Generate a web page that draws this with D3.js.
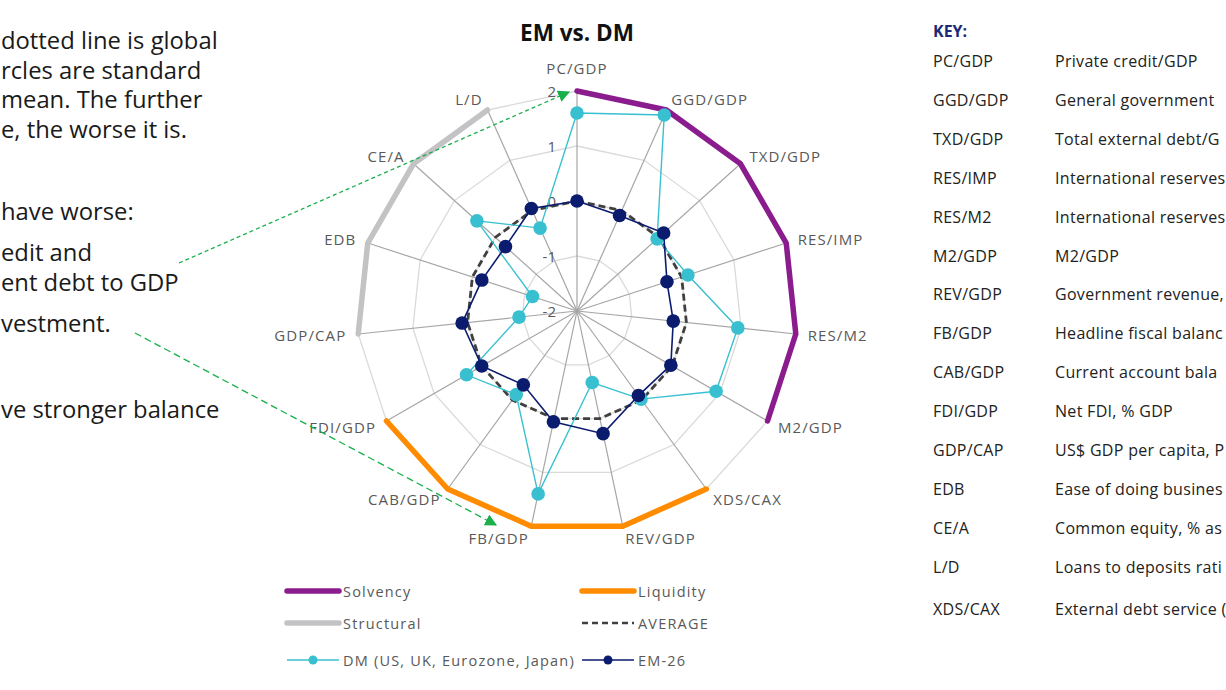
<!DOCTYPE html>
<html>
<head>
<meta charset="utf-8">
<script src="https://cdn.jsdelivr.net/npm/d3@7"></script>
<style>
  html, body { margin: 0; padding: 0; background: #fff; overflow: hidden; }
  svg { display: block; font-family: "Open Sans", sans-serif; }
</style>
</head>
<body>
<svg id="chart" width="1226" height="690"></svg>
<script>
// ---------------- DATA ----------------
const categories = ["PC/GDP","GGD/GDP","TXD/GDP","RES/IMP","RES/M2","M2/GDP","XDS/CAX","REV/GDP","FB/GDP","CAB/GDP","FDI/GDP","GDP/CAP","EDB","CE/A","L/D"];
const emValues   = [0.0, -0.1, 0.12, -0.28, -0.24, -0.03, -0.1, 0.28, 0.06, -0.34, 0.0, 0.1, -0.18, -0.25, 0.04];
const dmValues   = [1.6, 1.9, -0.04, 0.12, 0.94, 0.92, -0.02, -0.67, 1.4, -0.12, 0.32, -0.94, -1.15, 0.45, -0.35];
const averageValues = [0,0,0,0,0,0,0,0,0,0,0,0,0,0,0];
const solvencyValues   = [2,2,2,2,2,2,null,null,null,null,null,null,null,null,null];
const liquidityValues  = [null,null,null,null,null,null,2,2,2,2,2,null,null,null,null];
const structuralValues = [null,null,null,null,null,null,null,null,null,null,null,2,2,2,2];
const tickValues = [-2,-1,0,1,2];
const legendLabels = ["Solvency","Liquidity","Structural","AVERAGE","DM (US, UK, Eurozone, Japan)","EM-26"];
const keyAbbrev = ["PC/GDP","GGD/GDP","TXD/GDP","RES/IMP","RES/M2","M2/GDP","REV/GDP","FB/GDP","CAB/GDP","FDI/GDP","GDP/CAP","EDB","CE/A","L/D","XDS/CAX"];
const keyDesc = ["Private credit/GDP","General government","Total external debt/G","International reserves","International reserves","M2/GDP","Government revenue,","Headline fiscal balanc","Current account bala","Net FDI, % GDP","US$ GDP per capita, P","Ease of doing busines","Common equity, % as","Loans to deposits rati","External debt service ("];
const noteLines = ["dotted line is global","rcles are standard","mean. The further","e, the worse it is.","have worse:","edit and","ent debt to GDP","vestment.","ve stronger balance"];

// ---------------- STYLES ----------------
const C = {purple:"#8A1C8E", orange:"#FF8C00", gray:"#C3C3C6", avg:"#404040", dm:"#38C0D0", em:"#0B1B6E",
           spoke:"#A6A6A6", ring:"#DADADA", label:"#595959", green:"#19B04B"};

const svg = d3.select("#chart");
const cx = 577, cy = 311, R = 220;
const n = categories.length;
const r = d3.scaleLinear().domain([-2, 2]).range([0, R]);
const ang = d3.scalePoint().domain(categories).range([0, 2*Math.PI*(n-1)/n]);
const g = svg.append("g").attr("transform", `translate(${cx},${cy})`);
const px = (c, v) => r(v) * Math.sin(ang(c));
const py = (c, v) => -r(v) * Math.cos(ang(c));

// rings (polygons)
tickValues.filter(t => t > -2).forEach(t => {
  g.append("path")
    .attr("d", d3.lineRadial().angle(c => ang(c)).radius(() => r(t)).curve(d3.curveLinearClosed)(categories))
    .attr("fill", "none").attr("stroke", C.ring).attr("stroke-width", 1.3);
});
// spokes
g.selectAll("line.spoke").data(categories).join("line")
  .attr("x1", 0).attr("y1", 0)
  .attr("x2", c => px(c, 2)).attr("y2", c => py(c, 2))
  .attr("stroke", C.spoke).attr("stroke-width", 1.2);

// tick labels
g.selectAll("text.tick").data(tickValues).join("text")
  .attr("x", -21).attr("y", t => -r(t))
  .attr("text-anchor", "end").attr("dominant-baseline", "central")
  .attr("font-size", 15).attr("fill", C.label).text(t => t);

// category labels
g.selectAll("text.cat").data(categories).join("text")
  .attr("x", c => (R + 12) * Math.sin(ang(c)))
  .attr("y", c => -(R + 12) * Math.cos(ang(c)) - (Math.abs(Math.sin(ang(c))) < 0.05 ? 11 : 0))
  .attr("text-anchor", c => { const s = Math.sin(ang(c)); return Math.abs(s) < 0.05 ? "middle" : (s > 0 ? "start" : "end"); })
  .attr("dominant-baseline", "central")
  .attr("font-size", 15).attr("letter-spacing", 1.1).attr("fill", C.label)
  .text(c => c);

// group (category) lines
const openLine = d3.lineRadial().angle((d, i) => ang(categories[i])).radius(d => r(d)).defined(d => d !== null);
[[solvencyValues, C.purple], [liquidityValues, C.orange], [structuralValues, C.gray]].forEach(([vals, col]) => {
  g.append("path").attr("d", openLine(vals)).attr("fill", "none")
    .attr("stroke", col).attr("stroke-width", 5.5).attr("stroke-linecap", "round").attr("stroke-linejoin", "round");
});

const closedLine = d3.lineRadial().angle((d, i) => ang(categories[i])).radius(d => r(d)).curve(d3.curveLinearClosed);
// average
g.append("path").attr("d", closedLine(averageValues)).attr("fill", "none")
  .attr("stroke", C.avg).attr("stroke-width", 2.8).attr("stroke-dasharray", "7,4");

function series(vals, col, w) {
  g.append("path").attr("d", closedLine(vals)).attr("fill", "none").attr("stroke", col).attr("stroke-width", w);
  g.selectAll(null).data(vals).join("circle")
    .attr("cx", (d, i) => px(categories[i], d)).attr("cy", (d, i) => py(categories[i], d))
    .attr("r", 6.8).attr("fill", col);
}
series(dmValues, C.dm, 1.4);
series(emValues, C.em, 1.6);

// title
svg.append("text").attr("x", 577).attr("y", 32).attr("text-anchor", "middle").attr("dominant-baseline", "central")
  .attr("font-size", 22.5).attr("font-weight", "bold").attr("fill", "#111").text("EM vs. DM");

// legend
const leg = svg.append("g").attr("font-size", 14.5).attr("letter-spacing", 1.2).attr("fill", C.label);
const legItems = [
  {x: 287, y: 591, type: "thick", col: C.purple},
  {x: 582, y: 591, type: "thick", col: C.orange},
  {x: 287, y: 623, type: "thick", col: C.gray},
  {x: 582, y: 623, type: "dash", col: C.avg},
  {x: 287, y: 660, type: "dot", col: C.dm},
  {x: 582, y: 660, type: "dot", col: C.em}
];
legItems.forEach((it, i) => {
  const L = 52;
  const ln = leg.append("line").attr("x1", it.x).attr("x2", it.x + L).attr("y1", it.y).attr("y2", it.y).attr("stroke", it.col);
  if (it.type === "thick") ln.attr("stroke-width", 5.5).attr("stroke-linecap", "round");
  if (it.type === "dash") ln.attr("stroke-width", 2.4).attr("stroke-dasharray", "6,4");
  if (it.type === "dot") { ln.attr("stroke-width", 1.5); leg.append("circle").attr("cx", it.x + L/2).attr("cy", it.y).attr("r", 4.5).attr("fill", it.col); }
  leg.append("text").attr("x", it.x + 56).attr("y", it.y).attr("dominant-baseline", "central").text(legendLabels[i]);
});

// key
svg.append("text").attr("x", 933).attr("y", 31).attr("dominant-baseline", "central")
  .attr("font-size", 16).attr("font-weight", "bold").attr("fill", "#1B2A78").text("KEY:");
const keyY = [61,100,139,178,217,256,294,333,372,411,450,489,528,567,609];
const key = svg.append("g").attr("font-size", 16).attr("letter-spacing", 0.3).attr("fill", "#222");
keyAbbrev.forEach((a, i) => {
  key.append("text").attr("x", 933).attr("y", keyY[i]).attr("dominant-baseline", "central").text(a);
  key.append("text").attr("x", 1055).attr("y", keyY[i]).attr("dominant-baseline", "central").text(keyDesc[i]);
});

// left note text (cropped in the original)
const noteY = [40,70,99,129,211,252,282,323,409];
const note = svg.append("g").attr("font-size", 23.8).attr("fill", "#1a1a1a");
noteLines.forEach((t, i) => {
  note.append("text").attr("x", 1).attr("y", noteY[i]).attr("dominant-baseline", "central").text(t);
});

// green dashed arrows
const defs = svg.append("defs");
defs.append("marker").attr("id", "arr").attr("viewBox", "0 0 10 10").attr("refX", 9).attr("refY", 5)
  .attr("markerWidth", 12).attr("markerHeight", 12).attr("markerUnits", "userSpaceOnUse").attr("orient", "auto")
  .append("path").attr("d", "M0,0 L10,5 L0,10 Z").attr("fill", C.green);
svg.append("line").attr("x1", 179).attr("y1", 263).attr("x2", 569).attr("y2", 92)
  .attr("stroke", C.green).attr("stroke-width", 1.3).attr("stroke-dasharray", "4,3").attr("marker-end", "url(#arr)");
svg.append("line").attr("x1", 135).attr("y1", 333).attr("x2", 496).attr("y2", 525)
  .attr("stroke", C.green).attr("stroke-width", 1.3).attr("stroke-dasharray", "7,4").attr("marker-end", "url(#arr)");
</script>
</body>
</html>
